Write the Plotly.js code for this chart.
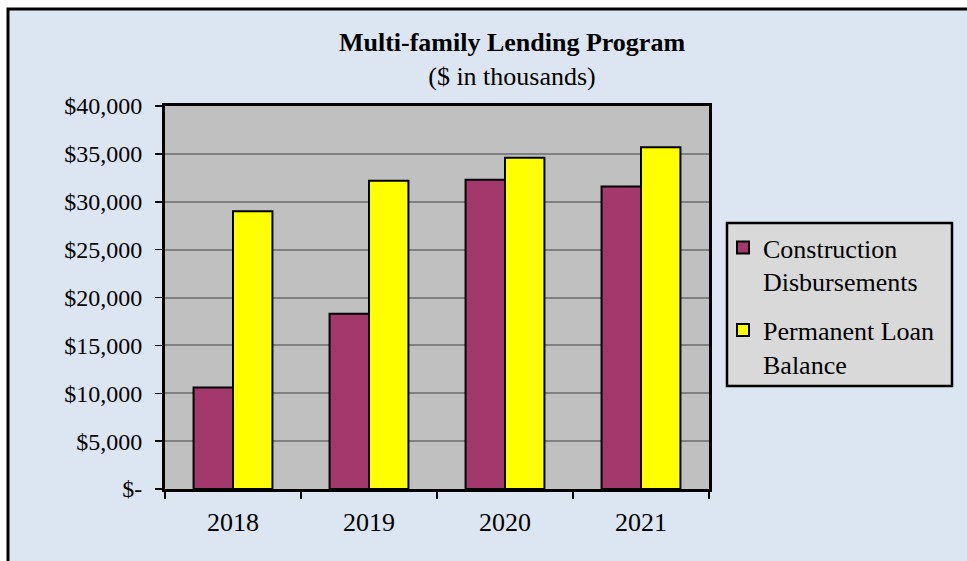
<!DOCTYPE html>
<html>
<head>
<meta charset="utf-8">
<script src="https://cdn.plot.ly/plotly-3.0.1.min.js"></script>
<style>html,body{margin:0;padding:0;background:#fff;}#chart{width:967px;height:561px;}</style>
</head>
<body>
<div id="chart"></div>
<script>
const years = ['2018', '2019', '2020', '2021'];
const construction = [10600, 18300, 32300, 31600];
const permanent = [29000, 32200, 34600, 35700];
const seriesNames = ['Construction<br>Disbursements', 'Permanent Loan<br>Balance'];
const yTickVals = [0, 5000, 10000, 15000, 20000, 25000, 30000, 35000, 40000];
const yTickText = ['$-', '$5,000', '$10,000', '$15,000', '$20,000', '$25,000', '$30,000', '$35,000', '$40,000'];

const W = 967, H = 561;
const M = {l: 165, r: 258, t: 106, b: 72};
const pw = W - M.l - M.r, ph = H - M.t - M.b;
const px = x => (x - M.l) / pw;
const py = y => (H - M.b - y) / ph;

const font = 'Liberation Serif, Times New Roman, serif';

const traces = [
  {type: 'bar', x: years, y: construction, name: seriesNames[0], legendgroup: 'a',
   marker: {color: '#a3386c', line: {color: '#000', width: 2}}},
  {type: 'bar', x: years, y: permanent, name: seriesNames[1], legendgroup: 'b',
   marker: {color: '#ffff00', line: {color: '#000', width: 2}}}
];

const layout = {
  width: W, height: H,
  margin: M,
  paper_bgcolor: '#dce6f2',
  plot_bgcolor: '#c0c0c0',
  font: {family: font, color: '#000', size: 22},
  barmode: 'group', bargap: 0.42, bargroupgap: 0,
  title: {
    text: '<b>Multi-family Lending Program</b><br>($ in thousands)',
    font: {family: font, size: 26, color: '#000'},
    x: 512 / W, xref: 'container', xanchor: 'center',
    y: 1 - 51 / H, yref: 'container', yanchor: 'top'
  },
  xaxis: {
    type: 'category',
    showline: true, linecolor: '#000', linewidth: 3, mirror: true,
    ticks: 'outside', tickson: 'boundaries', ticklen: 7, tickwidth: 1.5, tickcolor: '#000',
    tickfont: {family: font, size: 26, color: '#000'},
    ticklabelstandoff: 8,
    showgrid: false, zeroline: false
  },
  yaxis: {
    range: [0, 40000],
    tickvals: yTickVals, ticktext: yTickText,
    showline: true, linecolor: '#000', linewidth: 3, mirror: true,
    ticks: 'outside', ticklen: 7, tickwidth: 1.5, tickcolor: '#000',
    tickfont: {family: font, size: 24, color: '#000'},
    ticklabelstandoff: 8,
    showgrid: true, gridcolor: '#808080', gridwidth: 2,
    zeroline: false, fixedrange: true
  },
  showlegend: true,
  legend: {
    x: px(723), xanchor: 'left', xref: 'paper',
    y: py(224), yanchor: 'top', yref: 'paper',
    bgcolor: 'rgba(0,0,0,0)', borderwidth: 0,
    font: {family: font, size: 26, color: '#000'},
    valign: 'top', tracegroupgap: 12, traceorder: 'grouped'
  },
  shapes: [
    {type: 'rect', xref: 'paper', yref: 'paper', layer: 'below',
     x0: px(-20), x1: px(8), y0: py(600), y1: py(-20), fillcolor: '#ffffff', line: {width: 0}},
    {type: 'rect', xref: 'paper', yref: 'paper', layer: 'below',
     x0: px(-20), x1: px(1000), y0: py(9), y1: py(-20), fillcolor: '#ffffff', line: {width: 0}},
    {type: 'rect', xref: 'paper', yref: 'paper', layer: 'below',
     x0: px(8), x1: px(1000), y0: py(600), y1: py(9), fillcolor: 'rgba(0,0,0,0)', line: {color: '#000', width: 3}},
    {type: 'rect', xref: 'paper', yref: 'paper', layer: 'below',
     x0: px(727), x1: px(952), y0: py(386), y1: py(223), fillcolor: '#d9d9d9', line: {color: '#000', width: 2.5}}
  ]
};

Plotly.newPlot('chart', traces, layout, {displayModeBar: false, staticPlot: true});
</script>
</body>
</html>
